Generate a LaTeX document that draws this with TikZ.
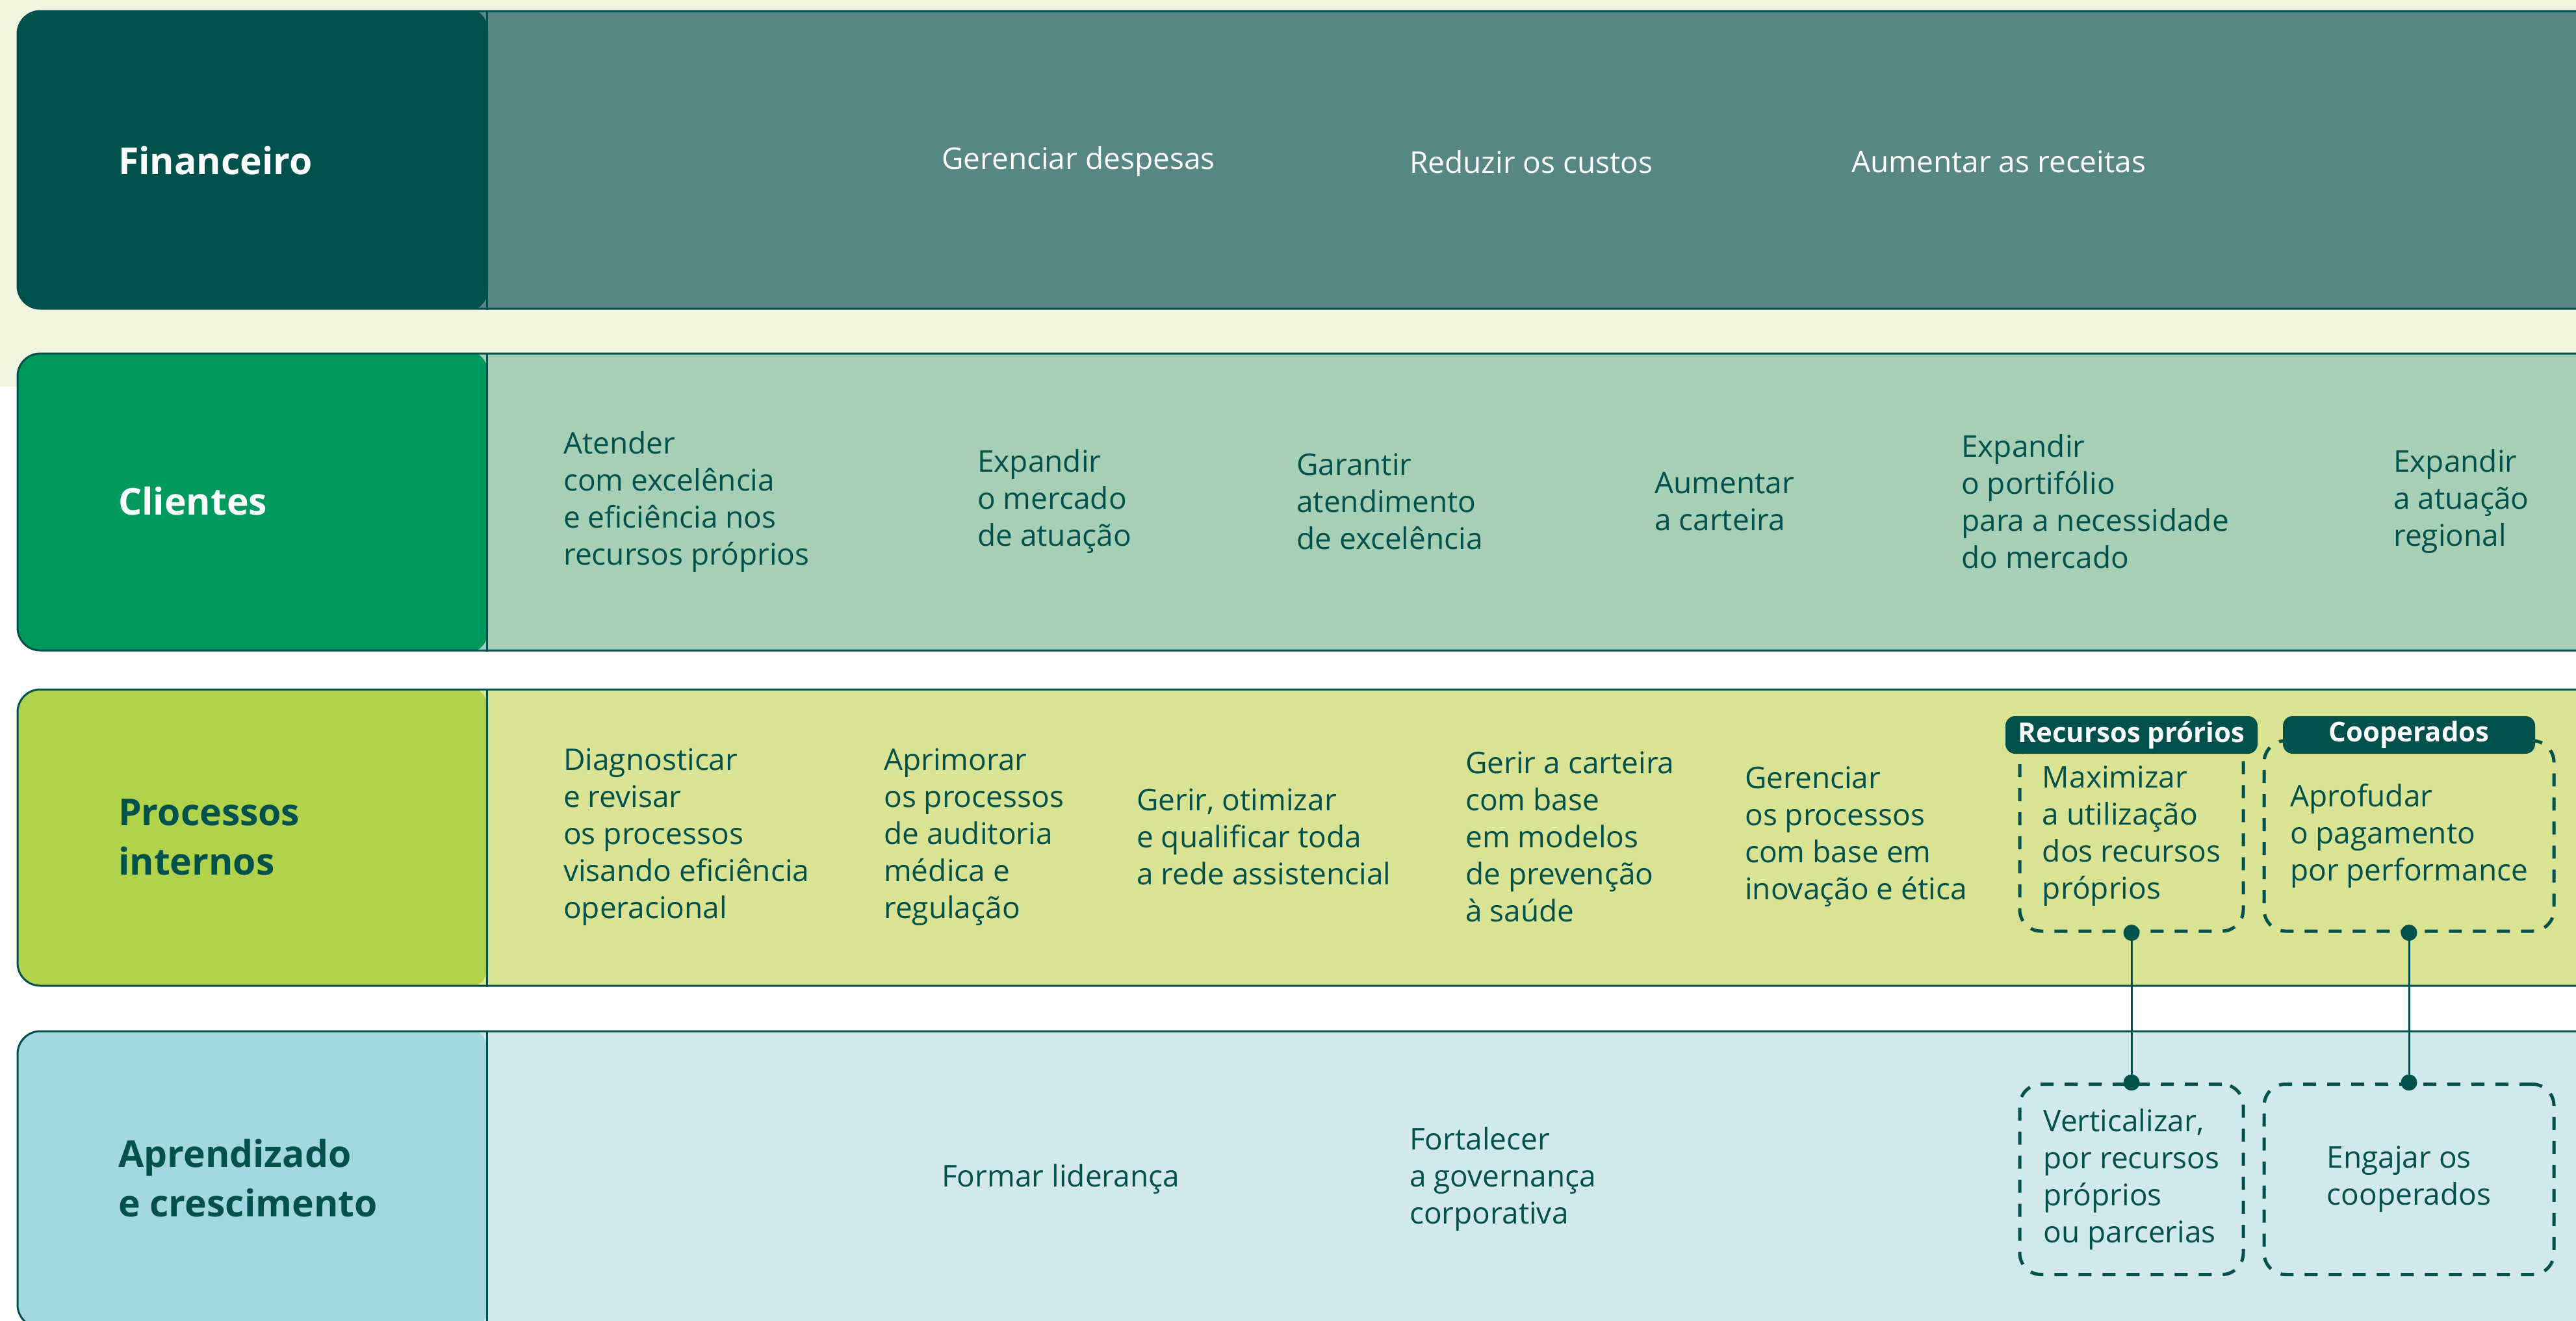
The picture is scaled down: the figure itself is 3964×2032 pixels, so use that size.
\documentclass[tikz,border=0pt]{standalone}
\usepackage{fontspec}
\setmainfont{Open Sans}
\definecolor{dark}{HTML}{00504B}
\definecolor{cream}{HTML}{F1F5E0}
\definecolor{rAl}{HTML}{00504B}
\definecolor{rAr}{HTML}{578784}
\definecolor{rBl}{HTML}{00995D}
\definecolor{rBr}{HTML}{A6CFB5}
\definecolor{rCl}{HTML}{B1D34B}
\definecolor{rCr}{HTML}{DAE293}
\definecolor{rDl}{HTML}{A3D9DE}
\definecolor{rDr}{HTML}{D1E8EC}
\tikzset{
  rowbox/.style n args={2}{rectangle, rounded corners=35pt, draw=dark, line width=3pt,
    fill=#2, minimum width=4073pt, inner sep=0pt,
    path picture={\fill[#1] ([xshift=-5pt,yshift=5pt]path picture bounding box.north west) rectangle
      ([xshift=724pt,yshift=-5pt]path picture bounding box.south west);}},
  hdr/.style={anchor=west, inner sep=0pt, align=left, font=\fontsize{57}{76}\selectfont\bfseries},
  body/.style={anchor=west, inner sep=0pt, align=left, text=dark, font=\fontsize{46}{57}\selectfont},
  dbox/.style={rectangle, rounded corners=33pt, draw=dark, line width=5pt, dash pattern=on 20pt off 17pt,
    minimum width=344pt, minimum height=293pt, inner sep=0pt, align=left, text=dark,
    font=\fontsize{46}{57}\selectfont},
  widebox/.style={dbox, minimum width=446pt},
  tabbox/.style={rectangle, rounded corners=15pt, fill=dark, text=white, minimum width=388pt,
    minimum height=58pt, inner sep=0pt, font=\fontsize{42}{50}\selectfont\bfseries},
  link/.style={draw=dark, line width=3pt},
  dot/.style={fill=dark}
}
\begin{document}
\begin{tikzpicture}[x=1pt,y=-1pt]
\useasboundingbox (0,0) rectangle (3964,2032);
\clip (0,0) rectangle (3964,2032);
\fill[white] (0,0) rectangle (3964,2032);
\fill[cream] (0,0) rectangle (3964,595);

% rows
\node[rowbox={rAl}{rAr}, minimum height=458pt] (row1) at (2063.5,246) {};
\node[rowbox={rBl}{rBr}, minimum height=457pt] (row2) at (2063.5,772.5) {};
\node[rowbox={rCl}{rCr}, minimum height=456pt] (row3) at (2063.5,1289) {};
\node[rowbox={rDl}{rDr}, minimum height=456pt] (row4) at (2063.5,1815) {};
\foreach \r in {row1,row2,row3,row4}{
  \draw[dark, line width=2.5pt] ([xshift=724pt]\r.north west) -- ([xshift=724pt]\r.south west);
}

% headers
\node[hdr, text=white] (h1) at (182,247) {Financeiro};
\node[hdr, text=white] (h2) at (182,771) {Clientes};
\node[hdr, text=dark] (h3) at (182,1288) {Processos\\internos};
\node[hdr, text=dark] (h4) at (182,1813) {Aprendizado\\e crescimento};

% row 1
\node[body, text=white] (f1) at (1449,249) {Gerenciar despesas};
\node[body, text=white] (f2) at (2169,249) {Reduzir os custos};
\node[body, text=white] (f3) at (2849,249) {Aumentar as receitas};

% row 2
\node[body] (c1) at (867,772) {Atender\\com excelência\\e eficiência nos\\recursos próprios};
\node[body] (c2) at (1504,772) {Expandir\\o mercado\\de atuação};
\node[body] (c3) at (1995,772) {Garantir\\atendimento\\de excelência};
\node[body] (c4) at (2546,772) {Aumentar\\a carteira};
\node[body] (c5) at (3018,772) {Expandir\\o portifólio\\para a necessidade\\do mercado};
\node[body] (c6) at (3683,772) {Expandir\\a atuação\\regional};

% row 3
\node[body] (p1) at (867,1288) {Diagnosticar\\e revisar\\os processos\\visando eficiência\\operacional};
\node[body] (p2) at (1360,1288) {Aprimorar\\os processos\\de auditoria\\médica e\\regulação};
\node[body] (p3) at (1749,1288) {Gerir, otimizar\\e qualificar toda\\a rede assistencial};
\node[body] (p4) at (2255,1288) {Gerir a carteira\\com base\\em modelos\\de prevenção\\à saúde};
\node[body] (p5) at (2685,1288) {Gerenciar\\os processos\\com base em\\inovação e ética};

\node[dbox] (m1) at (3280,1286.5) {Maximizar\\a utilização\\dos recursos\\próprios};
\node[widebox] (m2) at (3707,1286.5) {Aprofudar\\o pagamento\\por performance};
\node[tabbox] (t1) at (3280,1131) {Recursos prórios};
\node[tabbox] (t2) at (3707,1131) {Cooperados};

% row 4
\node[body] (a1) at (1449,1815) {Formar liderança};
\node[body] (a2) at (2169,1815) {Fortalecer\\a governança\\corporativa};
\node[dbox] (v1) at (3280,1815) {Verticalizar,\\por recursos\\próprios\\ou parcerias};
\node[widebox] (v2) at (3707,1815) {Engajar os\\cooperados};

% connectors
\draw[link] (m1.south) -- (v1.north);
\draw[link] (m2.south) -- (v2.north);
\fill[dot] (m1.south) circle (12.5pt);
\fill[dot] (v1.north) circle (12.5pt);
\fill[dot] (m2.south) circle (12.5pt);
\fill[dot] (v2.north) circle (12.5pt);
\end{tikzpicture}
\end{document}
